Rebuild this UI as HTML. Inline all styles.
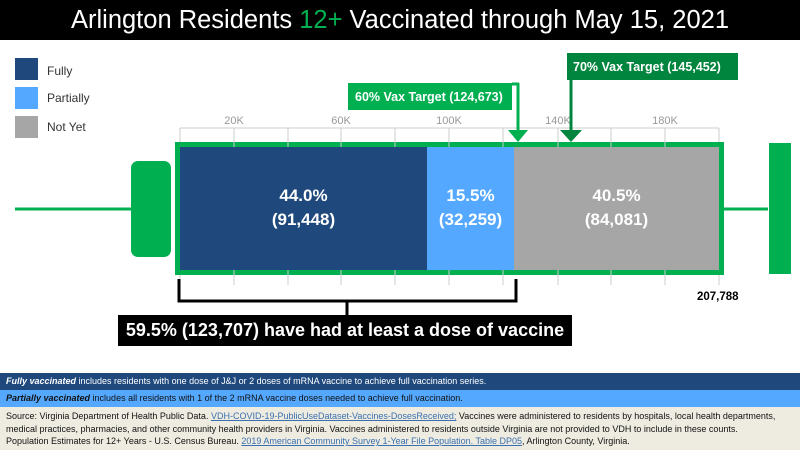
<!DOCTYPE html>
<html><head><meta charset="utf-8"><style>
body{margin:0;width:800px;height:450px;overflow:hidden;background:#fff;font-family:"Liberation Sans",sans-serif;position:relative}
div{position:absolute}
.t{font-size:11px;color:#333}
.lab{color:#fff;font-weight:bold;font-size:17px;text-align:center;line-height:24px}
.ft{font-size:9px;color:#111;left:6px;white-space:nowrap}
a{color:#3a6fb0;text-decoration:underline}
</style></head><body>
<div style="left:0;top:0;width:800px;height:40px;background:#000;color:#fff;font-size:25.5px;text-align:center;line-height:40px">Arlington Residents <span style="color:#00b050">12+</span> Vaccinated through May 15, 2021</div>
<div style="left:15px;top:58px;width:23px;height:22px;background:#1f497d"></div>
<div style="left:15px;top:87px;width:23px;height:22px;background:#55a8ff"></div>
<div style="left:15px;top:116px;width:23px;height:22px;background:#a6a6a6"></div>
<div class="t" style="left:47px;top:64px;font-size:12px">Fully</div>
<div class="t" style="left:47px;top:91px;font-size:12px">Partially</div>
<div class="t" style="left:47px;top:120px;font-size:12px">Not Yet</div>
<svg style="position:absolute;left:0;top:0" width="800" height="450">
<g fill="#999" font-size="11" text-anchor="middle" font-family="Liberation Sans">
<text x="234" y="124">20K</text><text x="341" y="124">60K</text><text x="449" y="124">100K</text><text x="558" y="124">140K</text><text x="665" y="124">180K</text></g>
<g stroke="#ccc"><line x1="180" y1="128" x2="719" y2="128"/>
<line x1="180" y1="128" x2="180" y2="285"/><line x1="234" y1="128" x2="234" y2="285"/><line x1="288" y1="128" x2="288" y2="285"/><line x1="341" y1="128" x2="341" y2="285"/><line x1="395" y1="128" x2="395" y2="285"/><line x1="449" y1="128" x2="449" y2="285"/><line x1="503" y1="128" x2="503" y2="285"/><line x1="558" y1="128" x2="558" y2="285"/><line x1="611" y1="128" x2="611" y2="285"/><line x1="665" y1="128" x2="665" y2="285"/><line x1="719" y1="128" x2="719" y2="285"/></g>
<line x1="15" y1="209" x2="132" y2="209" stroke="#00b050" stroke-width="3"/>
<line x1="722" y1="209" x2="768" y2="209" stroke="#00b050" stroke-width="3"/>
<rect x="131" y="161" width="40" height="96" rx="7" fill="#00b050"/>
<rect x="769" y="143" width="22" height="131" fill="#00b050"/>
<rect x="175" y="142" width="549" height="133" fill="#00b050"/>
<rect x="180" y="147" width="247" height="123" fill="#1f497d"/>
<rect x="427" y="147" width="87" height="123" fill="#55a8ff"/>
<rect x="514" y="147" width="205" height="123" fill="#a6a6a6"/>
<g stroke="#ccc"><line x1="234" y1="142" x2="234" y2="147"/><line x1="288" y1="142" x2="288" y2="147"/><line x1="341" y1="142" x2="341" y2="147"/><line x1="395" y1="142" x2="395" y2="147"/><line x1="449" y1="142" x2="449" y2="147"/><line x1="503" y1="142" x2="503" y2="147"/><line x1="558" y1="142" x2="558" y2="147"/><line x1="611" y1="142" x2="611" y2="147"/><line x1="665" y1="142" x2="665" y2="147"/>
<line x1="234" y1="270" x2="234" y2="275"/><line x1="288" y1="270" x2="288" y2="275"/><line x1="341" y1="270" x2="341" y2="275"/><line x1="395" y1="270" x2="395" y2="275"/><line x1="449" y1="270" x2="449" y2="275"/><line x1="503" y1="270" x2="503" y2="275"/><line x1="558" y1="270" x2="558" y2="275"/><line x1="611" y1="270" x2="611" y2="275"/><line x1="665" y1="270" x2="665" y2="275"/></g>
<rect x="348" y="83" width="164" height="27" fill="#00b050"/>
<line x1="518" y1="83" x2="518" y2="132" stroke="#00b050" stroke-width="3"/>
<polygon points="508,130 528,130 518,142" fill="#00b050"/>
<line x1="512" y1="84" x2="519" y2="84" stroke="#00b050" stroke-width="3"/>
<rect x="567" y="53" width="171" height="27" fill="#00853e"/>
<line x1="571" y1="80" x2="571" y2="132" stroke="#00853e" stroke-width="3"/>
<polygon points="560,130 582,130 571,142" fill="#00853e"/>
<g fill="#fff" font-weight="bold" font-size="12.5" font-family="Liberation Sans">
<text x="355" y="101">60% Vax Target (124,673)</text><text x="573" y="71">70% Vax Target (145,452)</text></g>
<path d="M179,279 V301 H516 V279 M347,301 V316" fill="none" stroke="#000" stroke-width="3"/>
<text x="697" y="300" font-size="11.5" font-weight="bold" font-family="Liberation Sans">207,788</text>
</svg>
<div class="lab" style="left:180px;top:184px;width:247px">44.0%<br>(91,448)</div>
<div class="lab" style="left:427px;top:184px;width:87px">15.5%<br>(32,259)</div>
<div class="lab" style="left:514px;top:184px;width:205px">40.5%<br>(84,081)</div>
<div style="left:118px;top:315px;width:454px;height:31px;background:#000;color:#fff;font-weight:bold;font-size:18px;line-height:31px;text-align:center">59.5% (123,707) have had at least a dose of vaccine</div>
<div style="left:0;top:373px;width:800px;height:17px;background:#1f497d"></div>
<div class="ft" style="top:376px;color:#fff"><i><b>Fully vaccinated</b></i> includes residents with one dose of J&amp;J or 2 doses of mRNA vaccine to achieve full vaccination series.</div>
<div style="left:0;top:390px;width:800px;height:17px;background:#55a8ff"></div>
<div class="ft" style="top:393px"><i><b>Partially vaccinated</b></i> includes all residents with 1 of the 2 mRNA vaccine doses needed to achieve full vaccination.</div>
<div style="left:0;top:407px;width:800px;height:43px;background:#eeece1"></div>
<div class="ft" style="top:410px;line-height:12.5px">Source: Virginia Department of Health Public Data. <a>VDH-COVID-19-PublicUseDataset-Vaccines-DosesReceived;</a> Vaccines were administered to residents by hospitals, local health departments,<br>medical practices, pharmacies, and other community health providers in Virginia. Vaccines administered to residents outside Virginia are not provided to VDH to include in these counts.<br>Population Estimates for 12+ Years - U.S. Census Bureau. <a>2019 American Community Survey 1-Year File Population. Table DP05</a>, Arlington County, Virginia.</div>
</body></html>
